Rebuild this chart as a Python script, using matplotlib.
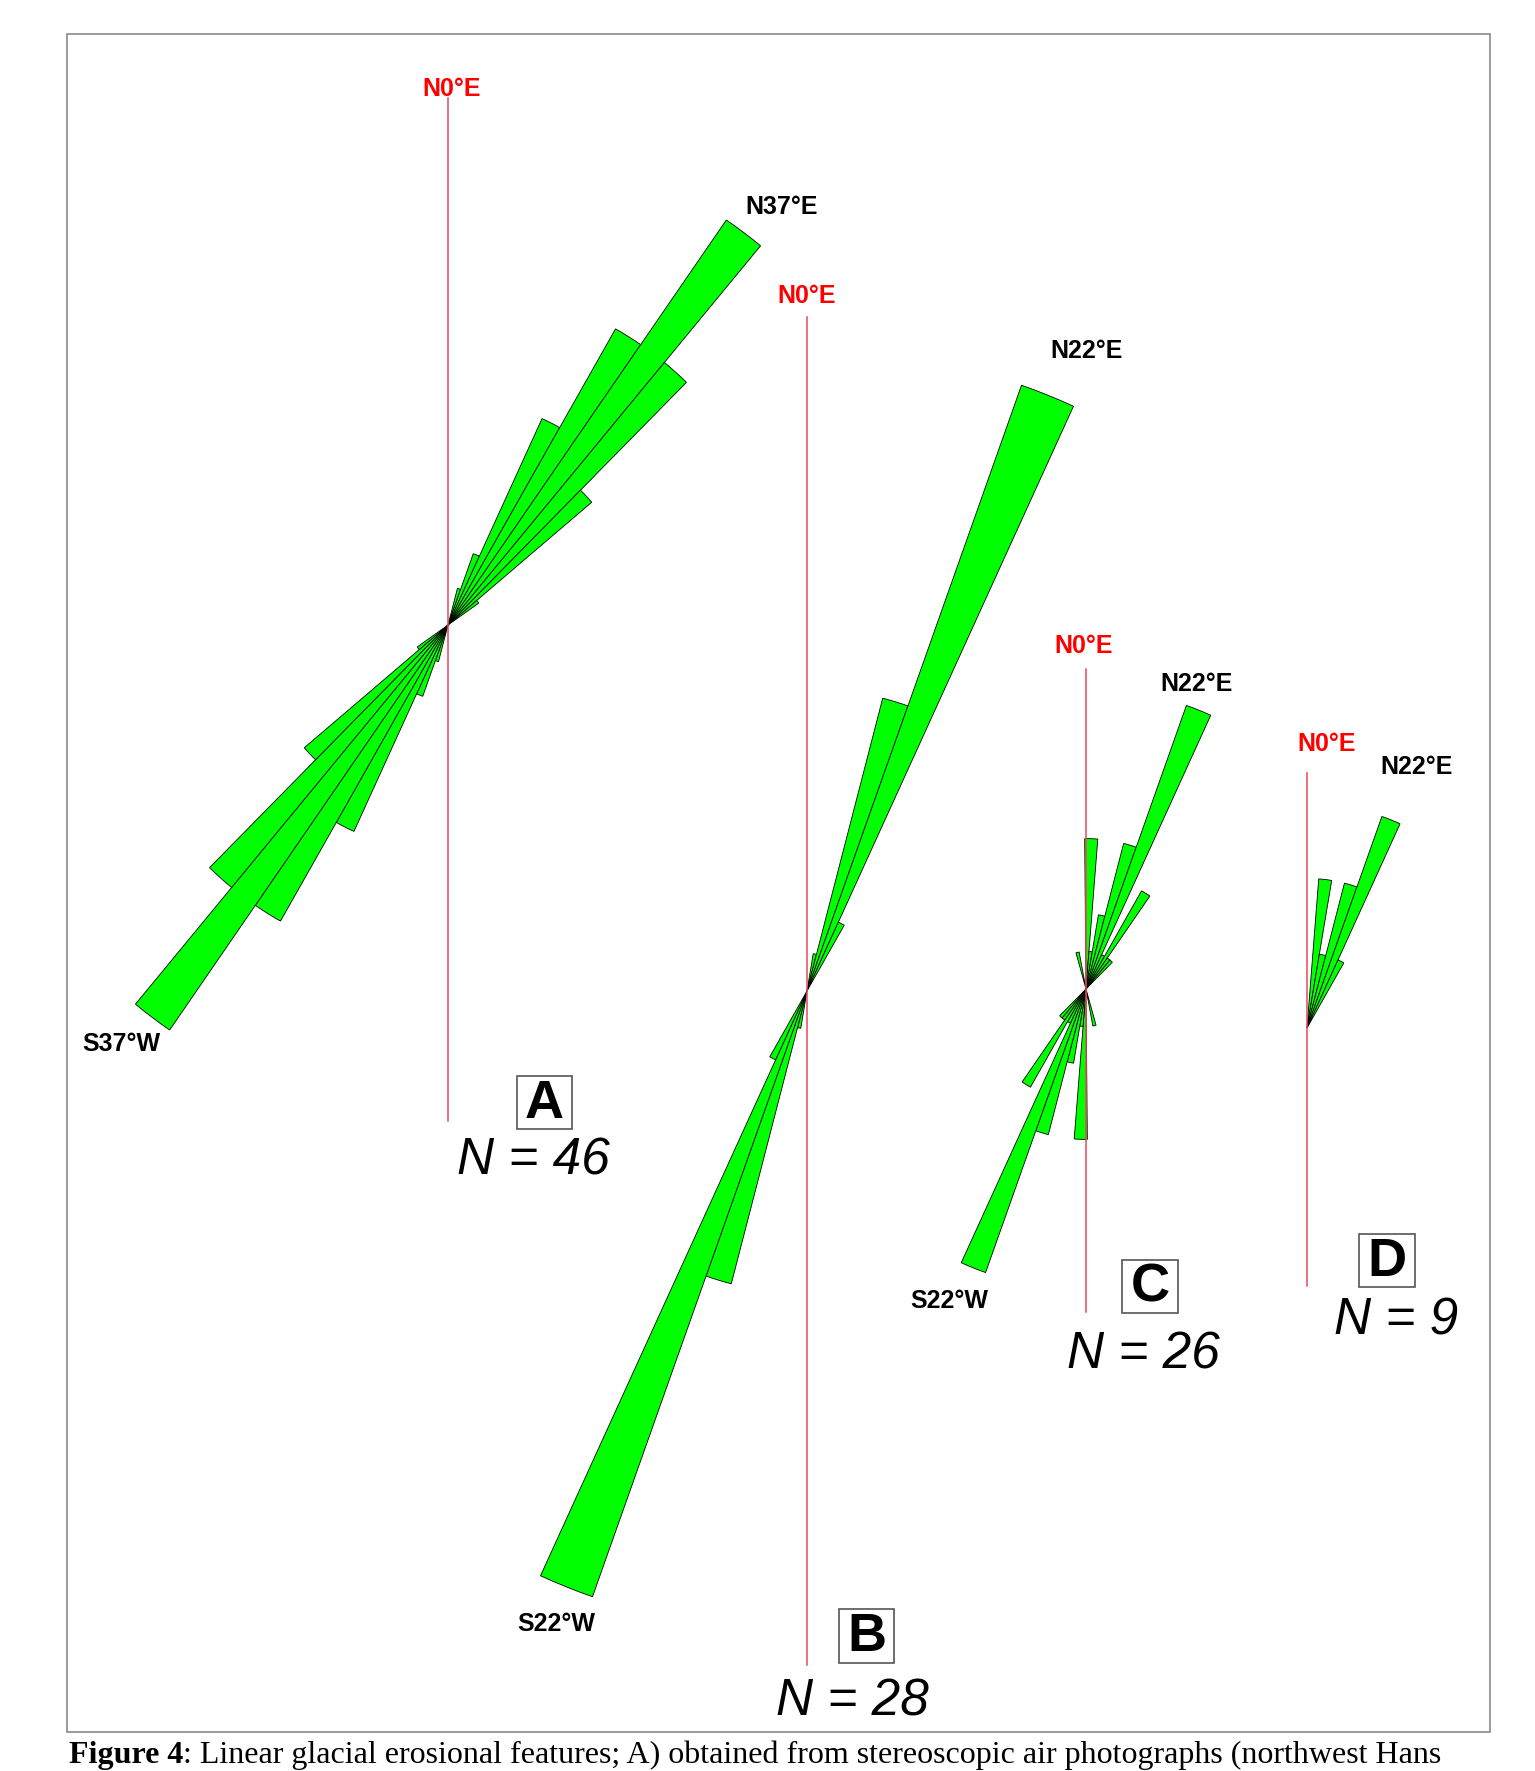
import numpy as np
import matplotlib
matplotlib.use("Agg")
import matplotlib.pyplot as plt
from matplotlib.patches import Rectangle

# petal counts per 5 degree class (class centres, degrees from north)
bins_A = [17, 22, 27, 32, 37, 42, 47, 52]
counts_A = [1, 2, 6, 9, 13, 9, 5, 1]
bins_B = [12, 17, 22, 27]
counts_B = [1, 8, 17, 2]
bins_C = [347, 2, 7, 12, 17, 22, 27, 32, 37, 42]
counts_C = [1, 4, 1, 2, 4, 8, 1, 3, 1, 1]
bins_D = [7, 12, 17, 22, 27]
counts_D = [2, 1, 2, 3, 1]

panels = ["A", "B", "C", "D"]
n_labels = ["N = 46", "N = 28", "N = 26", "N = 9"]
mean_labels = ["N37°E", "N22°E", "N22°E", "N22°E"]
opp_labels = ["S37°W", "S22°W", "S22°W", None]
north_label = "N0°E"

W, H = 1535, 1771
fig = plt.figure(figsize=(W / 100, H / 100), dpi=100)
plt.rcParams["font.family"] = ["Liberation Sans", "DejaVu Sans"]


def pixel_axes():
    ax = fig.add_axes([0, 0, 1, 1])
    ax.set_xlim(0, W)
    ax.set_ylim(H, 0)
    ax.axis("off")
    return ax


bg = pixel_axes()
bg.add_patch(Rectangle((67, 34), 1490 - 67, 1732 - 34, fill=False,
                       ec="#8a8a8a", lw=1.2))

# layout of every rose (pixel positions)
layout = {
    "A": dict(c=(448, 625), scale=37.8, both=True, line=(98, 1121),
              north=(452, 89), mean=(782, 207), opp=(121, 1044),
              box=(517, 1076, 55, 53), n=(533, 1161)),
    "B": dict(c=(807, 991), scale=37.8, both=True, line=(317, 1665),
              north=(807, 296), mean=(1087, 351), opp=(556, 1624),
              box=(839, 1609, 55, 54), n=(852, 1702)),
    "C": dict(c=(1086, 989), scale=37.6, both=True, line=(669, 1312),
              north=(1084, 646), mean=(1197, 684), opp=(949, 1301),
              box=(1122, 1260, 56, 53), n=(1143, 1355)),
    "D": dict(c=(1307, 1028), scale=74.8, both=False, line=(773, 1286),
              north=(1327, 744), mean=(1417, 767), opp=None,
              box=(1359, 1234, 56, 53), n=(1396, 1321)),
}
data = {"A": (bins_A, counts_A), "B": (bins_B, counts_B),
        "C": (bins_C, counts_C), "D": (bins_D, counts_D)}

for p in panels:
    lay = layout[p]
    bins, counts = data[p]
    cx, cy = lay["c"]
    rmax = max(counts) * 1.1
    R = rmax * lay["scale"]
    ax = fig.add_axes([(cx - R) / W, 1 - (cy + R) / H, 2 * R / W, 2 * R / H],
                      projection="polar")
    ax.set_theta_zero_location("N")
    ax.set_theta_direction(-1)
    th = np.deg2rad(bins)
    ax.bar(th, counts, width=np.deg2rad(5), color="#00ff00",
           edgecolor="black", linewidth=0.6)
    if lay["both"]:
        ax.bar(th + np.pi, counts, width=np.deg2rad(5), color="#00ff00",
               edgecolor="black", linewidth=0.6)
    ax.set_ylim(0, rmax)
    ax.axis("off")

fg = pixel_axes()
for i, p in enumerate(panels):
    lay = layout[p]
    cx, cy = lay["c"]
    fg.plot([cx, cx], lay["line"], color="#e64a5a", lw=1.1)
    fg.text(*lay["north"], north_label, color="red", fontsize=18,
            fontweight="bold", ha="center", va="center")
    fg.text(*lay["mean"], mean_labels[i], color="black", fontsize=18,
            fontweight="bold", ha="center", va="center")
    if lay["opp"] is not None:
        fg.text(*lay["opp"], opp_labels[i], color="black", fontsize=18,
                fontweight="bold", ha="center", va="center")
    bx, by, bw, bh = lay["box"]
    fg.add_patch(Rectangle((bx, by), bw, bh, fill=False, ec="#555555", lw=1.2))
    fg.text(bx + bw / 2, by + bh / 2 + 1, p, fontsize=39, fontweight="bold",
            ha="center", va="center")
    fg.text(*lay["n"], n_labels[i], fontsize=37, style="italic",
            ha="center", va="center")

# caption line below the frame
t1 = fg.text(69, 1763, "Figure 4", family="Liberation Serif", fontsize=23,
             fontweight="bold", ha="left", va="baseline")
fg.annotate(": Linear glacial erosional features; A) obtained from stereoscopic "
            "air photographs (northwest Hans",
            xy=(1, 0), xycoords=t1, va="bottom", ha="left",
            family="Liberation Serif", fontsize=23)

fig.savefig("out.png", dpi=100)
